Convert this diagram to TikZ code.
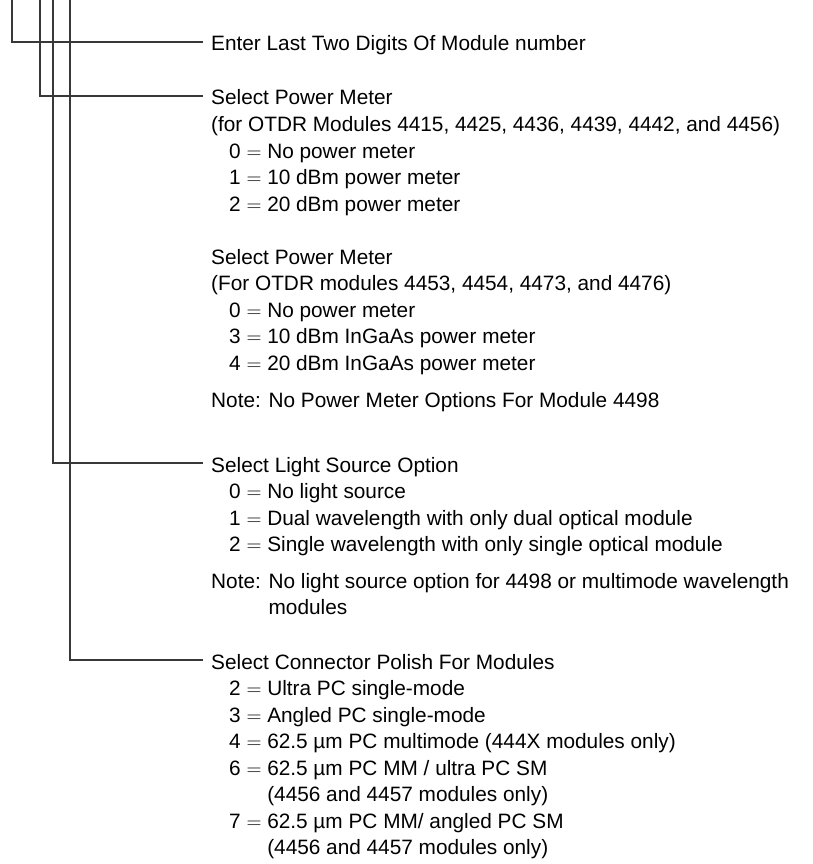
\documentclass[tikz,border=0pt]{standalone}
\usepackage{fontspec}
\setmainfont{Liberation Sans}
\newcommand\myeq{\ $=$\ }
\begin{document}
\begin{tikzpicture}[x=1pt,y=-1pt,
  txt/.style={anchor=base west,inner sep=0pt,font=\fontsize{20.8}{26.5}\selectfont,text=black},
  conn/.style={line width=1.3pt,draw=black!78}]
\useasboundingbox (0,0) rectangle (813,864);
% tops of the four vertical leads
\coordinate (c1) at (12,0);
\coordinate (c2) at (40,0);
\coordinate (c3) at (53,0);
\coordinate (c4) at (70,0);
% group 1
\node[txt] (enter) at (211,51) {Enter Last Two Digits Of Module number};
% group 2
\node[txt] (pm1) at (211,105) {Select Power Meter};
\node[txt] (pm1a) at (211,131.5) {(for OTDR Modules 4415, 4425, 4436, 4439, 4442, and 4456)};
\node[txt] (pm1b) at (229,158) {0\myeq No power meter};
\node[txt] (pm1c) at (229,184.5) {1\myeq 10 dBm power meter};
\node[txt] (pm1d) at (229,211) {2\myeq 20 dBm power meter};
\node[txt] (pm2) at (211,264) {Select Power Meter};
\node[txt] (pm2a) at (211,290.5) {(For OTDR modules 4453, 4454, 4473, and 4476)};
\node[txt] (pm2b) at (229,317) {0\myeq No power meter};
\node[txt] (pm2c) at (229,343.5) {3\myeq 10 dBm InGaAs power meter};
\node[txt] (pm2d) at (229,370) {4\myeq 20 dBm InGaAs power meter};
\node[txt] (pmnote) at (211,407) {Note: No Power Meter Options For Module 4498};
% group 3
\node[txt] (ls) at (211,472) {Select Light Source Option};
\node[txt] (lsa) at (229,498.5) {0\myeq No light source};
\node[txt] (lsb) at (229,525) {1\myeq Dual wavelength with only dual optical module};
\node[txt] (lsc) at (229,551.5) {2\myeq Single wavelength with only single optical module};
\node[txt] (lsnote) at (211,588) {Note: No light source option for 4498 or multimode wavelength};
\node[txt] (lsnote2) at (211,614.5) {\phantom{Note: }modules};
% group 4
\node[txt] (cp) at (211,669) {Select Connector Polish For Modules};
\node[txt] (cpa) at (229,695.5) {2\myeq Ultra PC single-mode};
\node[txt] (cpb) at (229,722) {3\myeq Angled PC single-mode};
\node[txt] (cpc) at (229,748.5) {4\myeq 62.5 µm PC multimode (444X modules only)};
\node[txt] (cpd) at (229,775) {6\myeq 62.5 µm PC MM / ultra PC SM};
\node[txt] (cpd2) at (229,801.5) {\phantom{6\myeq}(4456 and 4457 modules only)};
\node[txt] (cpe) at (229,828) {7\myeq 62.5 µm PC MM/ angled PC SM};
\node[txt] (cpe2) at (229,854.5) {\phantom{7\myeq}(4456 and 4457 modules only)};
% connectors
\draw[conn] (c1) |- ([shift={(-8,-9)}]enter.base west);
\draw[conn] (c2) |- ([shift={(-8,-9)}]pm1.base west);
\draw[conn] (c3) |- ([shift={(-8,-9)}]ls.base west);
\draw[conn] (c4) |- ([shift={(-8,-9)}]cp.base west);
\end{tikzpicture}
\end{document}
